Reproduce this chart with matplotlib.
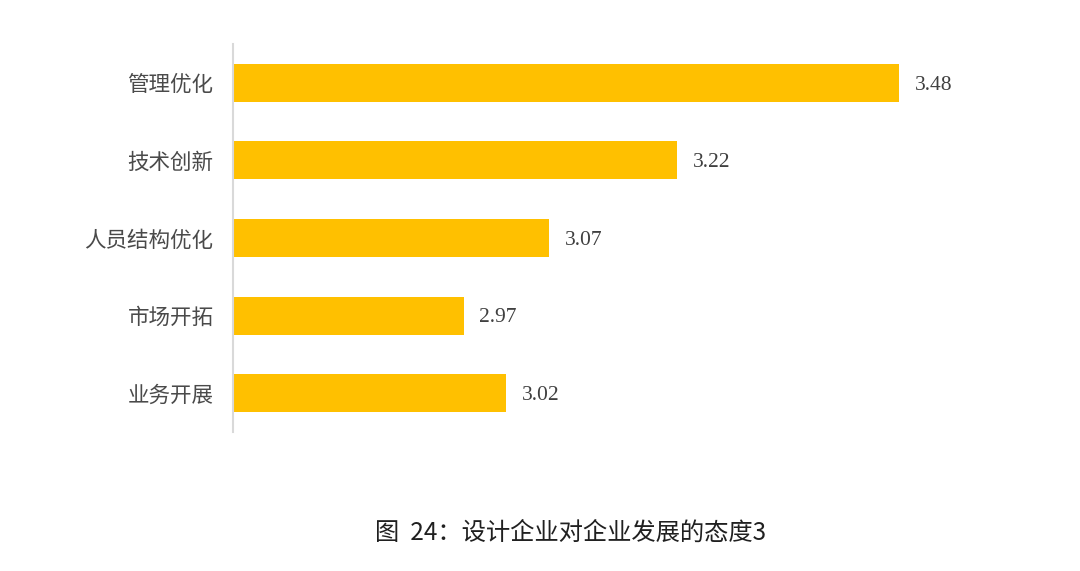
import matplotlib
matplotlib.use('Agg')
import matplotlib.pyplot as plt

plt.rcParams['font.family'] = ['Noto Sans CJK SC', 'DejaVu Sans']

# Data
categories = ['管理优化', '技术创新', '人员结构优化', '市场开拓', '业务开展']
values = [3.48, 3.22, 3.07, 2.97, 3.02]
value_labels = ['3.48', '3.22', '3.07', '2.97', '3.02']
caption = '图  24：设计企业对企业发展的态度3'

fig = plt.figure(figsize=(10.8, 5.71), dpi=100)
ax = fig.add_axes([0.2157, 0.2434, 0.712, 0.6795])

base = 2.7
ypos = list(range(len(categories)))
ax.barh(ypos, [v - base for v in values], left=base, height=0.49, color='#FFC000')

for y, v, lab in zip(ypos, values, value_labels):
    ax.text(v + 0.018, y + 0.03, lab, va='center', ha='left', fontsize=15.5,
            color='#404040', family=['Liberation Serif', 'DejaVu Serif'])

ax.set_xlim(base, 3.6)
ax.set_ylim(len(categories) - 0.5, -0.5)
ax.set_yticks(ypos)
ax.set_yticklabels(categories, fontsize=15.5, color='#4a4a4a')
ax.tick_params(axis='y', length=0, pad=14)
ax.set_xticks([])

for s in ['top', 'right', 'bottom']:
    ax.spines[s].set_visible(False)
ax.spines['left'].set_color('#D9D9D9')
ax.spines['left'].set_linewidth(1.5)

fig.text(571 / 1080, 1 - 533 / 571, caption, ha='center', va='center', fontsize=17.5,
         color='#202020')

fig.savefig('out.png', dpi=100)
